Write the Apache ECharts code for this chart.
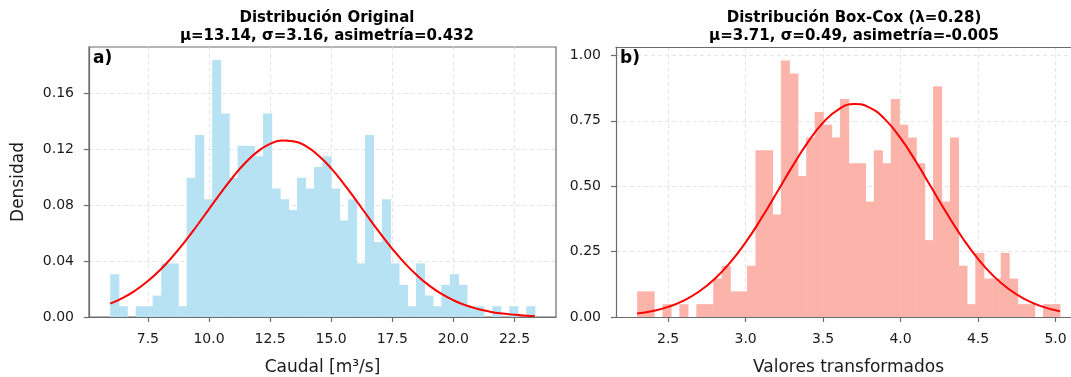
<!DOCTYPE html>
<html>
<head>
<meta charset="utf-8">
<script src="https://cdn.jsdelivr.net/npm/echarts@6/dist/echarts.min.js"></script>
<style>
html,body{margin:0;padding:0;background:#fff;}
#chart{width:1071px;height:377px;}
</style>
</head>
<body>
<div id="chart"></div>
<script>
// ---- Panel a) original distribution ----
const origBinStart = 5.96;
const origBinWidth = 0.3474;
const origDensity = [
  0.0306, 0.0077, 0.0000, 0.0077, 0.0077, 0.0153, 0.0383, 0.0383, 0.0077, 0.0995,
  0.1301, 0.0842, 0.1836, 0.1454, 0.0995, 0.1224, 0.1224, 0.1148, 0.1454, 0.0918,
  0.0842, 0.0765, 0.0995, 0.0918, 0.1071, 0.1148, 0.0918, 0.0689, 0.0842, 0.0383,
  0.1301, 0.0536, 0.0842, 0.0383, 0.0230, 0.0077, 0.0383, 0.0153, 0.0077, 0.0230,
  0.0306, 0.0230, 0.0077, 0.0077, 0.0000, 0.0077, 0.0000, 0.0077, 0.0000, 0.0077
];
const origCurveX = [5.96, 6.5, 7.0, 7.5, 8.0, 8.5, 9.0, 9.5, 10.0, 10.5, 11.0, 11.5, 12.0, 12.5, 13.0, 13.5,
                    14.0, 14.5, 15.0, 15.5, 16.0, 16.5, 17.0, 17.5, 18.0, 18.5, 19.0, 19.5, 20.0, 20.5,
                    21.0, 21.5, 22.0, 22.5, 23.0, 23.33];
const origCurveY = [0.00956, 0.01388, 0.01911, 0.02568, 0.03364, 0.04296, 0.05353, 0.06503, 0.07707, 0.08906,
                    0.10038, 0.11034, 0.11830, 0.12369, 0.12613, 0.12543, 0.12166, 0.11508, 0.10618, 0.09553,
                    0.08382, 0.07173, 0.05987, 0.04874, 0.03869, 0.02995, 0.02262, 0.01666, 0.01197, 0.00838,
                    0.00572, 0.00381, 0.00248, 0.00157, 0.00097, 0.00070];
const origXTicks = [7.5, 10.0, 12.5, 15.0, 17.5, 20.0, 22.5];
const origYTicks = [0.00, 0.04, 0.08, 0.12, 0.16];

// ---- Panel b) Box-Cox transformed distribution ----
const bcBinStart = 2.300;
const bcBinWidth = 0.05456;
const bcDensity = [
  0.098, 0.098, 0.000, 0.049, 0.000, 0.049, 0.000, 0.049, 0.049, 0.147,
  0.196, 0.098, 0.098, 0.196, 0.637, 0.637, 0.392, 0.980, 0.931, 0.539,
  0.686, 0.784, 0.735, 0.686, 0.833, 0.588, 0.588, 0.441, 0.637, 0.588,
  0.833, 0.735, 0.686, 0.588, 0.294, 0.882, 0.441, 0.686, 0.196, 0.049,
  0.245, 0.147, 0.147, 0.245, 0.147, 0.049, 0.049, 0.000, 0.049, 0.049
];
const bcCurveX = [2.3, 2.4, 2.5, 2.6, 2.7, 2.8, 2.9, 3.0, 3.1, 3.2, 3.3, 3.4, 3.5, 3.6, 3.7, 3.8, 3.9,
                  4.0, 4.1, 4.2, 4.3, 4.4, 4.5, 4.6, 4.7, 4.8, 4.9, 5.028];
const bcCurveY = [0.01296, 0.02284, 0.03859, 0.06260, 0.09732, 0.14516, 0.2077, 0.28499, 0.3752, 0.47370,
                  0.5738, 0.66653, 0.7428, 0.7939, 0.8140, 0.8006, 0.7553, 0.6834, 0.5932, 0.49384,
                  0.3944, 0.30209, 0.2220, 0.15644, 0.1058, 0.06859, 0.04266, 0.02186];
const bcXTicks = [2.5, 3.0, 3.5, 4.0, 4.5, 5.0];
const bcYTicks = [0.00, 0.25, 0.50, 0.75, 1.00];

const titles = [
  'Distribución Original\nμ=13.14, σ=3.16, asimetría=0.432',
  'Distribución Box-Cox (λ=0.28)\nμ=3.71, σ=0.49, asimetría=-0.005'
];

function bins(start, width, dens) {
  return dens.map((d, i) => [start + i * width, start + (i + 1) * width, d]);
}
function pairs(xs, ys) { return xs.map((x, i) => [x, ys[i]]); }

const FONT = 'DejaVu Sans';
const SPINE = '#6b6b6b';
const GRIDC = '#dedede';

function barRender(color) {
  return function (params, api) {
    if (api.value(2) <= 0) return null;
    const p0 = api.coord([api.value(0), api.value(2)]);
    const p1 = api.coord([api.value(1), 0]);
    return {
      type: 'rect',
      shape: { x: p0[0], y: p0[1], width: p1[0] - p0[0] + 0.6, height: p1[1] - p0[1] },
      style: { fill: color, stroke: null }
    };
  };
}

function xAx(idx, min, max, ticks, name) {
  return {
    type: 'value', gridIndex: idx, min: min, max: max,
    name: name, nameLocation: 'middle', nameGap: 42,
    nameTextStyle: { fontFamily: FONT, fontSize: 17, color: '#1a1a1a' },
    axisLine: { show: true, onZero: false, lineStyle: { color: SPINE, width: 1.2 } },
    axisTick: { show: true, length: 5, customValues: ticks, lineStyle: { color: SPINE, width: 1.2 } },
    axisLabel: { customValues: ticks, margin: 15, fontFamily: FONT, fontSize: 14, color: '#1a1a1a',
                 formatter: v => v.toFixed(1) },
    splitLine: { show: true, lineStyle: { color: GRIDC, type: [4, 3], width: 0.8 } }
  };
}
// top spine: an extra x axis that only draws its line
function topSpine(idx, min, max) {
  return {
    type: 'value', gridIndex: idx, position: 'top', min: min, max: max,
    axisLine: { show: true, onZero: false, lineStyle: { color: SPINE, width: 1.2 } },
    axisTick: { show: false }, axisLabel: { show: false }, splitLine: { show: false }
  };
}
function yAx(idx, max, ticks, name) {
  return {
    type: 'value', gridIndex: idx, min: 0, max: max,
    name: name, nameLocation: 'middle', nameGap: 62,
    nameTextStyle: { fontFamily: FONT, fontSize: 17, color: '#1a1a1a' },
    axisLine: { show: true, lineStyle: { color: SPINE, width: 1.2 } },
    axisTick: { show: true, length: 5, customValues: ticks, lineStyle: { color: SPINE, width: 1.2 } },
    axisLabel: { customValues: ticks, margin: 15, fontFamily: FONT, fontSize: 14, color: '#1a1a1a',
                 formatter: v => v.toFixed(2) },
    splitLine: { show: true, lineStyle: { color: GRIDC, type: [4, 3], width: 0.8 } }
  };
}

const chart = echarts.init(document.getElementById('chart'), null, { renderer: 'canvas' });
chart.setOption({
  backgroundColor: '#fff',
  animation: false,
  title: [
    { text: titles[0], left: 322, top: 4, textAlign: 'center',
      textStyle: { fontFamily: FONT, fontSize: 15, fontWeight: 'bold', color: '#000', lineHeight: 18 } },
    { text: titles[1], left: 849, top: 4, textAlign: 'center',
      textStyle: { fontFamily: FONT, fontSize: 15, fontWeight: 'bold', color: '#000', lineHeight: 18 } }
  ],
  grid: [
    { left: 89, top: 47, width: 467, height: 270, show: true, borderColor: SPINE, borderWidth: 1.2,
      backgroundColor: 'transparent', outerBoundsMode: 'none', containLabel: false },
    { left: 616, top: 47, width: 465, height: 270, show: false,
      outerBoundsMode: 'none', containLabel: false }
  ],
  xAxis: [
    xAx(0, 5.0915, 24.1985, origXTicks, 'Caudal [m³/s]'),
    xAx(1, 2.1636, 5.1644, bcXTicks, 'Valores transformados'),
    topSpine(1, 2.1636, 5.1644)
  ],
  yAxis: [
    yAx(0, 0.1929, origYTicks, 'Densidad'),
    yAx(1, 1.032, bcYTicks, '')
  ],
  graphic: [
    { type: 'text', left: 93, top: 50, style: { text: 'a)', fontFamily: FONT, fontSize: 17, fontWeight: 'bold', fill: '#000' }, z: 100 },
    { type: 'text', left: 620, top: 50, style: { text: 'b)', fontFamily: FONT, fontSize: 17, fontWeight: 'bold', fill: '#000' }, z: 100 }
  ],
  series: [
    { type: 'custom', xAxisIndex: 0, yAxisIndex: 0, renderItem: barRender('#B7E2F3'),
      encode: { x: [0, 1], y: 2 }, data: bins(origBinStart, origBinWidth, origDensity), z: 2 },
    { type: 'line', xAxisIndex: 0, yAxisIndex: 0, data: pairs(origCurveX, origCurveY), smooth: true,
      symbol: 'none', lineStyle: { color: '#ff0000', width: 2 }, z: 5 },
    { type: 'custom', xAxisIndex: 1, yAxisIndex: 1, renderItem: barRender('#FCB3AA'),
      encode: { x: [0, 1], y: 2 }, data: bins(bcBinStart, bcBinWidth, bcDensity), z: 2 },
    { type: 'line', xAxisIndex: 1, yAxisIndex: 1, data: pairs(bcCurveX, bcCurveY), smooth: true,
      symbol: 'none', lineStyle: { color: '#ff0000', width: 2 }, z: 5 }
  ]
});
</script>
</body>
</html>
